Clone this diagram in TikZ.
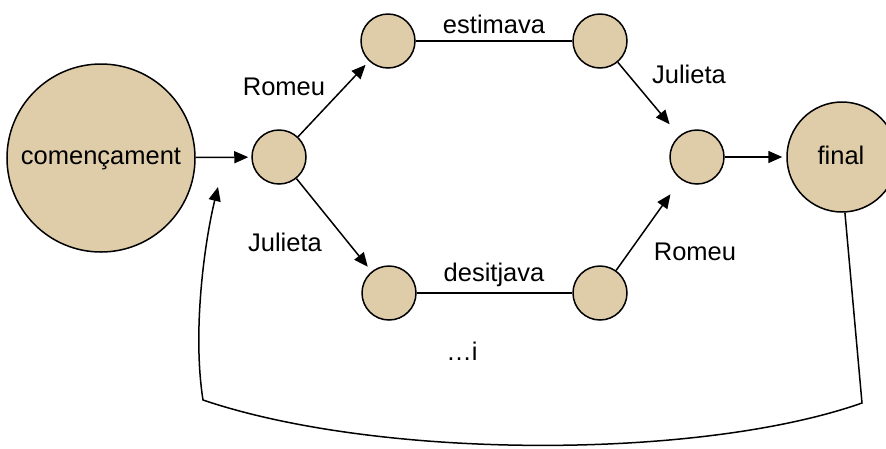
\documentclass[tikz,border=0pt]{standalone}
\usepackage{fontspec}
\setmainfont{Liberation Sans}
\usetikzlibrary{arrows.meta}
\definecolor{tan}{RGB}{223,205,170}
\tikzset{
  st/.style={circle,draw=black,fill=tan,line width=1.5pt,inner sep=0pt},
  small/.style={st,minimum size=54pt},
  lbl/.style={anchor=base,inner sep=0pt,font=\fontsize{25.5}{30}\selectfont},
  conn/.style={line width=1.5pt},
  arr/.style={conn,-{Triangle[length=14pt,width=12pt]}}
}
\begin{document}
\begin{tikzpicture}[x=1pt,y=-1pt]
\useasboundingbox (0,0) rectangle (886,448);
\node[st,minimum size=188pt] (start) at (101,158) {};
\node[small] (a) at (279,157) {};
\node[small] (b) at (388,41) {};
\node[small] (c) at (600,41) {};
\node[small] (d) at (697,157) {};
\node[small] (e) at (389,293) {};
\node[small] (f) at (600,293) {};
\node[st,minimum size=110pt] (fin) at (842,157) {};
\node[lbl] (tstart) at (101,164) {començament};
\node[lbl] (tfin) at (841,164) {final};
\node[lbl] (l1) at (284,95) {Romeu};
\node[lbl] (l2) at (494,33) {estimava};
\node[lbl] (l3) at (689,83) {Julieta};
\node[lbl] (l4) at (285,251) {Julieta};
\node[lbl] (l5) at (494,281) {desitjava};
\node[lbl] (l6) at (695,260) {Romeu};
\node[lbl] (l7) at (462,360) {\dots i};
\coordinate (r1) at (862,403);
\coordinate (l1c) at (203,400);
\coordinate (loopend) at (218,187);
\draw[arr,shorten >=3pt] (start) -- (a);
\draw[arr,shorten >=5pt] (a) -- (b);
\draw[conn] (b) -- (c);
\draw[arr,shorten >=15pt] (c) -- (d);
\draw[arr,shorten >=6pt] (a) -- (e);
\draw[conn] (e) -- (f);
\draw[arr,shorten >=18pt] (f) -- (d);
\draw[arr,shorten >=4pt] (d) -- (fin);
\draw[arr] (fin.-87) -- (r1) .. controls (700,460) and (380,460) .. (l1c) .. controls (192,330) and (205,240) .. (loopend);
\end{tikzpicture}
\end{document}
